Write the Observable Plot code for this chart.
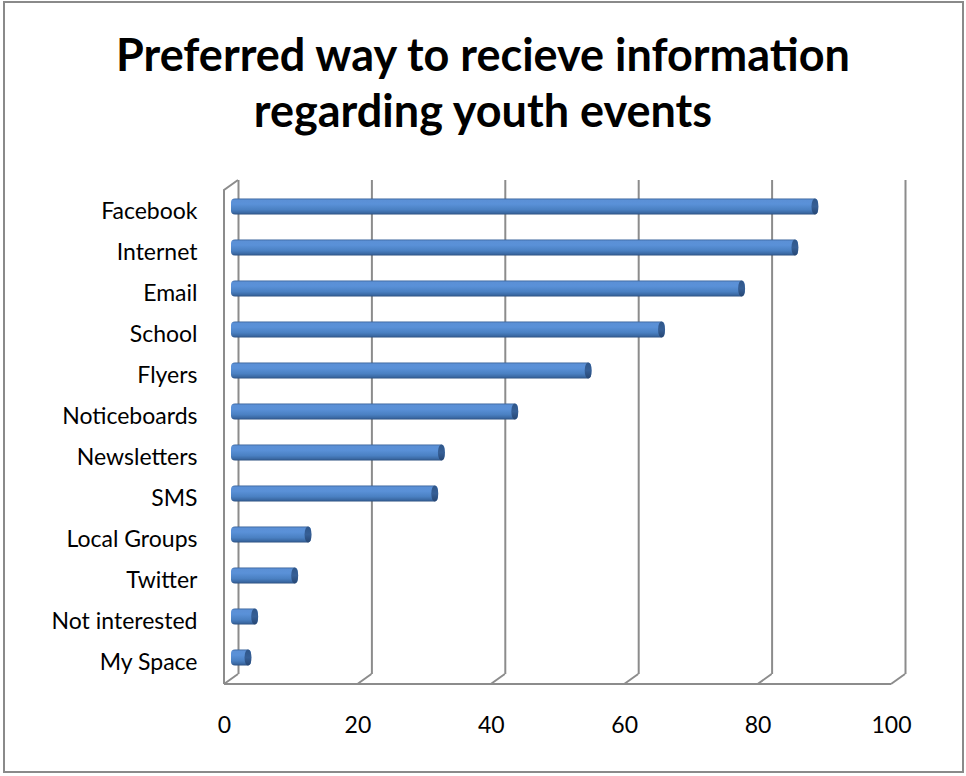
<!DOCTYPE html>
<html>
<head>
<meta charset="utf-8">
<script src="https://cdn.jsdelivr.net/npm/d3@7"></script>
<script src="https://cdn.jsdelivr.net/npm/@observablehq/plot@0.6"></script>
<style>
  html, body { margin: 0; padding: 0; background: #fff; }
  #border { position: absolute; left: 3px; top: 1px; width: 957px; height: 768px; border: 2px solid #8a8a8a; background: #fff; }
  #title { position: absolute; left: 0; top: 26px; width: 966px; text-align: center;
           font-family: Lato, "Open Sans", sans-serif; font-weight: 700; font-size: 45px; line-height: 56px; color: #000; }
  #chart { position: absolute; left: 0; top: 150px; }
</style>
</head>
<body>
<div id="border"></div>
<div id="title">Preferred way to recieve information<br>regarding youth events</div>
<div id="chart"></div>
<script>
const categories = ["Facebook", "Internet", "Email", "School", "Flyers", "Noticeboards",
  "Newsletters", "SMS", "Local Groups", "Twitter", "Not interested", "My Space"];
const values = [88, 85, 77, 65, 54, 43, 32, 31, 12, 10, 4, 3];
const xTicks = [0, 20, 40, 60, 80, 100];

const data = categories.map((c, i) => ({category: c, value: values[i]}));

const DX = 14, DY = -10;          // depth offset of the back wall
const frameColor = "#8c8c8c";

function defs() {
  const d = d3.create("svg:defs");
  const g = d.append("linearGradient").attr("id", "cyl").attr("x1", 0).attr("y1", 0).attr("x2", 0).attr("y2", 1);
  [[0, "#3a649c"], [0.1, "#5b90d6"], [0.35, "#5a91d8"], [0.7, "#4a80c2"], [0.9, "#3a68a2"], [1, "#2b4f80"]]
    .forEach(([o, c]) => g.append("stop").attr("offset", o).attr("stop-color", c));
  const c = d.append("linearGradient").attr("id", "cap").attr("x1", 0).attr("y1", 0).attr("x2", 0).attr("y2", 1);
  [[0, "#2f5689"], [0.5, "#365f96"], [1, "#264673"]]
    .forEach(([o, col]) => c.append("stop").attr("offset", o).attr("stop-color", col));
  return d.node();
}

function frame3d(index, scales, values, dims) {
  const x = scales.x;
  const top = dims.marginTop, bottom = dims.height - dims.marginBottom;
  const p = d3.path();
  p.moveTo(x(xTicks[0]), bottom); p.lineTo(x(xTicks[xTicks.length - 1]), bottom);
  for (const t of xTicks) { p.moveTo(x(t), bottom); p.lineTo(x(t) + DX, bottom + DY); }
  p.moveTo(x(xTicks[0]), bottom); p.lineTo(x(xTicks[0]), top); p.lineTo(x(xTicks[0]) + DX, top + DY);
  return d3.create("svg:path").attr("d", p.toString()).attr("fill", "none")
    .attr("stroke", frameColor).attr("stroke-width", 2).node();
}

function caps(index, scales) {
  const x = scales.x, y = scales.y;
  const bw = y.bandwidth ? y.bandwidth() : 41;
  const g = d3.create("svg:g");
  for (const d of data) {
    g.append("ellipse")
      .attr("cx", x(d.value) + DX / 2 - 3)
      .attr("cy", y(d.category) + bw / 2 + DY / 2)
      .attr("rx", 3.5).attr("ry", 8)
      .attr("fill", "url(#cap)");
  }
  return g.node();
}

const chart = Plot.plot({
  width: 966,
  height: 626,
  marginLeft: 224,
  marginRight: 75,
  marginTop: 40,
  marginBottom: 92,
  style: {fontFamily: "Lato, 'Open Sans', sans-serif", fontSize: "23px", color: "#000", background: "transparent"},
  x: {domain: [0, 100], ticks: xTicks, tickSize: 0, tickPadding: 32, label: null},
  y: {domain: categories, padding: 0, tickSize: 0, tickPadding: 27, label: null},
  marks: [
    defs,
    Plot.ruleX(xTicks, {dx: DX, dy: DY, stroke: frameColor, strokeWidth: 2}),
    frame3d,
    Plot.barX(data, {x: "value", y: "category", dx: DX / 2, dy: DY / 2, insetTop: 12.5, insetBottom: 12.5, rx: 4, fill: "url(#cyl)"}),
    caps
  ]
});
document.getElementById("chart").appendChild(chart);
</script>
</body>
</html>
